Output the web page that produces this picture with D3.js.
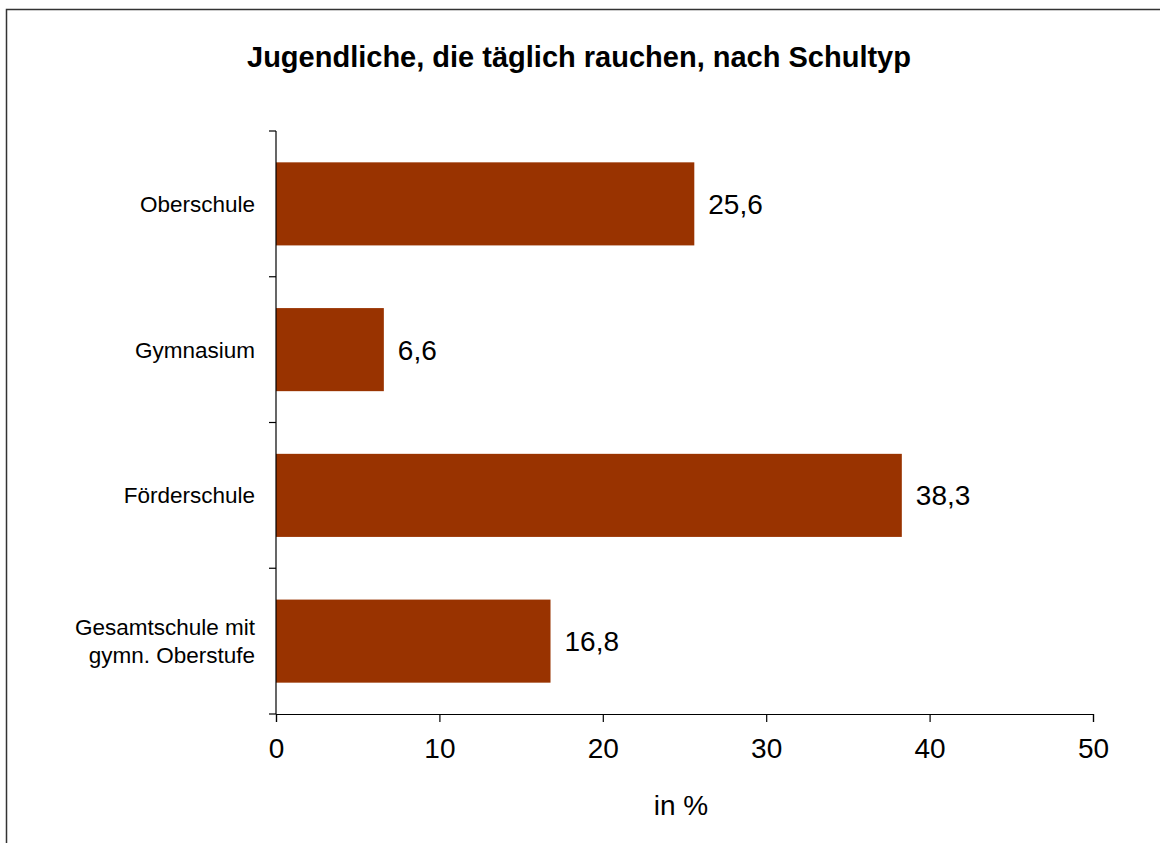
<!DOCTYPE html>
<html>
<head>
<meta charset="utf-8">
<script src="https://cdn.jsdelivr.net/npm/d3@7"></script>
<style>
  body { margin: 0; background: #fff; }
  svg text { font-family: "Liberation Sans", Arial, sans-serif; fill: #000; }
</style>
</head>
<body>
<script>
// chart data
var categories = ["Oberschule", "Gymnasium", "Förderschule", "Gesamtschule mit\ngymn. Oberstufe"];
var values = [25.6, 6.6, 38.3, 16.8];
var xTicks = [0, 10, 20, 30, 40, 50];

var svg = d3.select("body").append("svg").attr("width", 1160).attr("height", 843);

// outer frame (runs past the right and bottom edge)
svg.append("rect")
    .attr("x", 6.5).attr("y", 9.5)
    .attr("width", 1200).attr("height", 900)
    .attr("fill", "none")
    .attr("stroke", "#333")
    .attr("stroke-width", 1.5);

// plot area
var margin = {top: 131, left: 276};
var w = 1093 - 276;
var h = 714 - 131;
var g = svg.append("g").attr("transform", "translate(" + margin.left + "," + margin.top + ")");

var xScale = d3.scaleLinear()
    .domain([0, 50])
    .range([0, w]);

var yScale = d3.scaleBand()
    .domain(categories)
    .range([0, h])
    .paddingInner(0.43)
    .paddingOuter(0.215);

// bars
g.selectAll(".bar")
    .data(values)
    .enter()
    .append("rect")
    .attr("class", "bar")
    .attr("x", 0)
    .attr("y", function(d, i) { return yScale(categories[i]); })
    .attr("width", function(d) { return xScale(d); })
    .attr("height", yScale.bandwidth())
    .attr("fill", "#993300");

// value labels
g.selectAll(".val")
    .data(values)
    .enter()
    .append("text")
    .attr("x", function(d) { return xScale(d) + 14; })
    .attr("y", function(d, i) { return yScale(categories[i]) + yScale.bandwidth() / 2; })
    .attr("dy", "0.36em")
    .style("font-size", "28px")
    .text(function(d) { return d.toFixed(1).replace(".", ","); });

// y axis: line with ticks at band edges
var edges = d3.range(categories.length + 1).map(function(i) { return i * h / categories.length; });
g.append("line")
    .attr("x1", 0).attr("x2", 0).attr("y1", 0).attr("y2", h)
    .attr("stroke", "#000").attr("stroke-width", 1.2);
g.selectAll(".ytick")
    .data(edges)
    .enter()
    .append("line")
    .attr("x1", -7).attr("x2", 0)
    .attr("y1", function(d) { return d; }).attr("y2", function(d) { return d; })
    .attr("stroke", "#000").attr("stroke-width", 1.2);

// category labels
g.selectAll(".cat")
    .data(categories)
    .enter()
    .append("text")
    .attr("text-anchor", "end")
    .style("font-size", "22.5px")
    .attr("y", function(d) { return yScale(d) + yScale.bandwidth() / 2; })
    .each(function(d) {
        var lines = d.split("\n");
        var t = d3.select(this);
        lines.forEach(function(l, k) {
            t.append("tspan")
                .attr("x", -21)
                .attr("dy", k == 0 ? (0.36 - (lines.length - 1) * 0.62) + "em" : "1.24em")
                .text(l);
        });
    });

// x axis
var xAxis = g.append("g")
    .attr("transform", "translate(0," + h + ")")
    .call(d3.axisBottom(xScale).tickValues(xTicks).tickSize(8).tickPadding(16).tickFormat(d3.format("d")));
xAxis.select(".domain").attr("stroke", "#000").attr("stroke-width", 1.2);
xAxis.selectAll(".tick line").attr("stroke", "#000").attr("stroke-width", 1.2);
xAxis.selectAll("text")
    .style("font-size", "28px")
    .style("font-family", "'Liberation Sans', Arial, sans-serif")
    .attr("fill", "#000");

// x axis title
svg.append("text")
    .attr("x", 681).attr("y", 815)
    .attr("text-anchor", "middle")
    .style("font-size", "28px")
    .text("in %");

// chart title
svg.append("text")
    .attr("x", 579).attr("y", 67)
    .attr("text-anchor", "middle")
    .style("font-size", "29px")
    .style("font-weight", "bold")
    .text("Jugendliche, die täglich rauchen, nach Schultyp");
</script>
</body>
</html>
